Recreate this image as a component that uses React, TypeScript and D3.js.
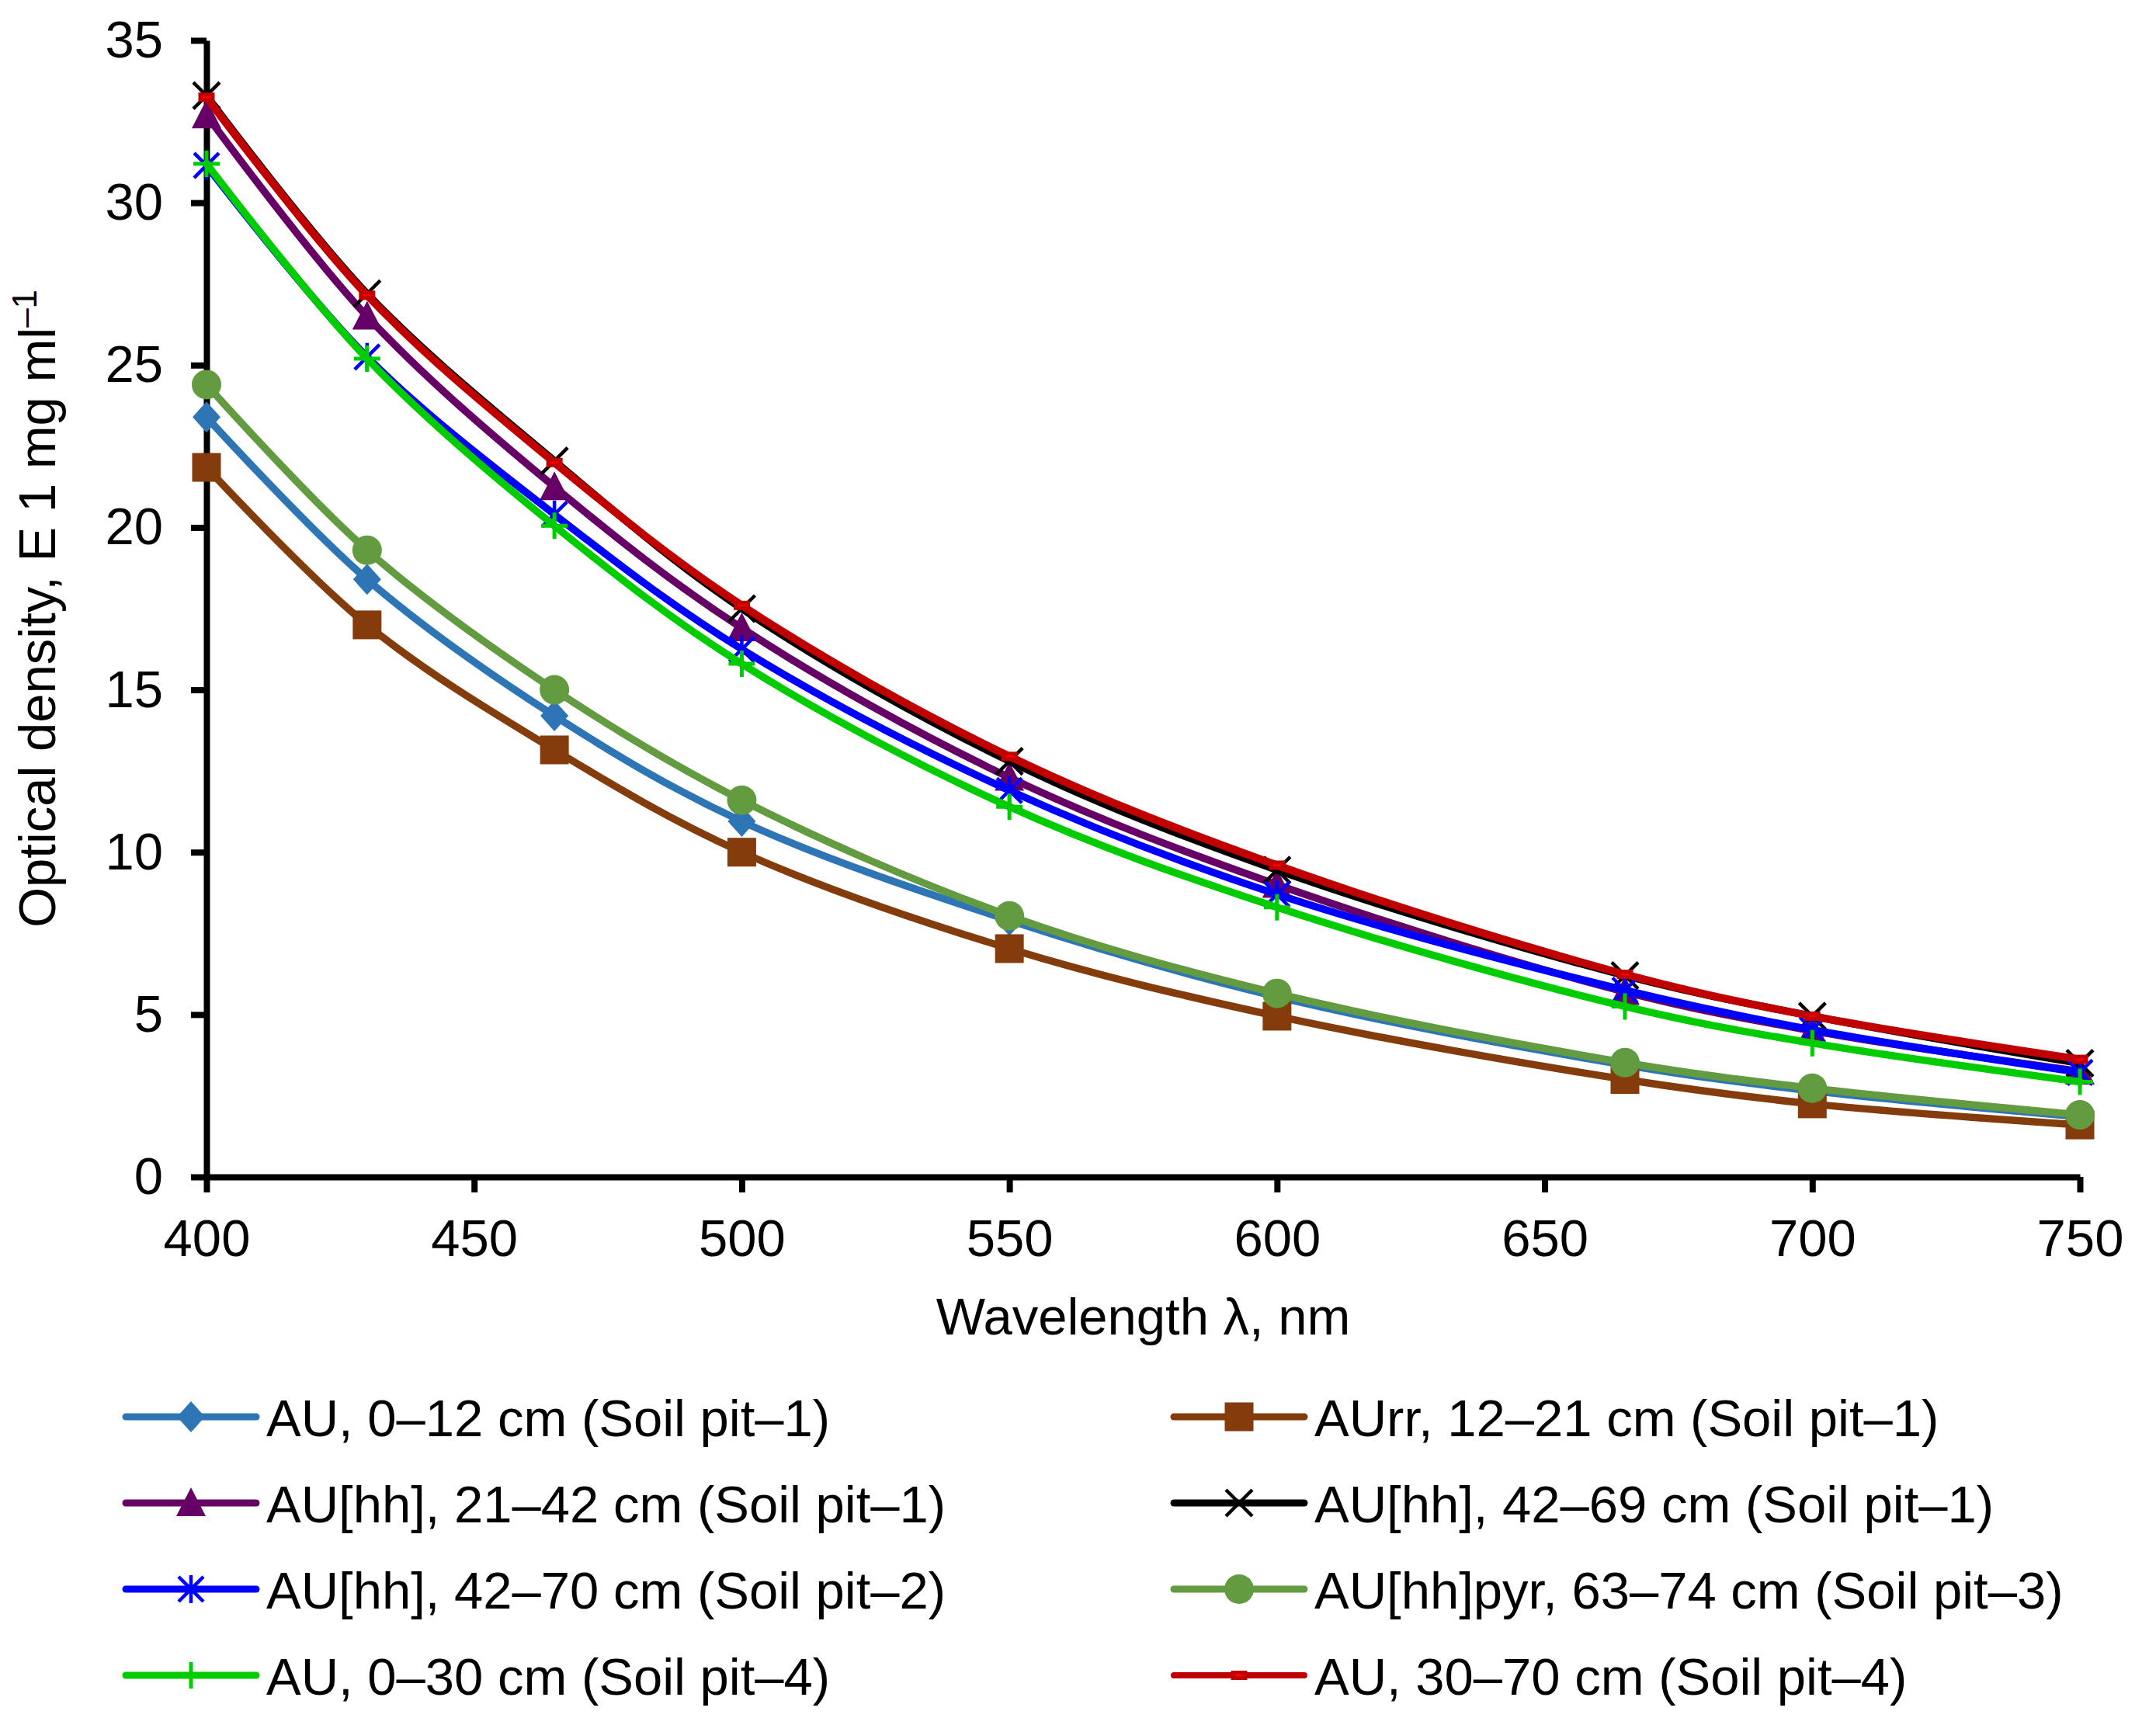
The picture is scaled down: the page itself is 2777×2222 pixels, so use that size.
import { useEffect, useRef } from "react";
import * as d3 from "d3";

// wavelength, nm
const wavelengths = [400, 430, 465, 500, 550, 600, 665, 700, 750];

// optical density values
const au0_12 = [23.4, 18.4, 14.2, 10.95, 7.9, 5.55, 3.45, 2.65, 1.85];
const aurr12_21 = [21.85, 17.0, 13.15, 10.0, 7.03, 4.95, 3.0, 2.25, 1.6];
const auhh21_42 = [32.7, 26.5, 21.25, 16.9, 12.3, 9.0, 5.7, 4.5, 3.25];
const auhh42_69 = [33.3, 27.2, 22.05, 17.5, 12.8, 9.45, 6.2, 4.95, 3.5];
const auhh42_70 = [31.15, 25.25, 20.4, 16.25, 11.9, 8.7, 5.75, 4.53, 3.22];
const auhhpyr63_74 = [24.4, 19.3, 15.0, 11.6, 8.04, 5.65, 3.52, 2.73, 1.91];
const au0_30 = [31.2, 25.2, 20.05, 15.8, 11.4, 8.3, 5.25, 4.12, 2.93];
const au30_70 = [33.25, 27.15, 22.0, 17.6, 12.95, 9.6, 6.24, 4.95, 3.62];

const seriesValues = [au0_12, aurr12_21, auhh21_42, auhh42_69, auhh42_70, auhhpyr63_74, au0_30, au30_70];
const seriesNames = [
  "AU, 0–12 cm (Soil pit–1)",
  "AUrr, 12–21 cm (Soil pit–1)",
  "AU[hh], 21–42 cm (Soil pit–1)",
  "AU[hh], 42–69 cm (Soil pit–1)",
  "AU[hh], 42–70 cm (Soil pit–2)",
  "AU[hh]pyr, 63–74 cm (Soil pit–3)",
  "AU, 0–30 cm (Soil pit–4)",
  "AU, 30–70 cm (Soil pit–4)",
];
const seriesColors = ["#2E75B6", "#843C0C", "#660066", "#000000", "#0000FF", "#629B40", "#00CC00", "#C00000"];
const seriesMarkers = ["diamond", "square", "triangle", "x", "star", "circle", "plus", "dash"];

const xTicks = [400, 450, 500, 550, 600, 650, 700, 750];
const yTicks = [0, 5, 10, 15, 20, 25, 30, 35];

const FONT = "'Liberation Sans', Arial, sans-serif";

type Pt = { x: number; y: number };

function drawMarker(g: d3.Selection<SVGGElement, unknown, null, undefined>, type: string, color: string) {
  switch (type) {
    case "diamond":
      g.append("path").attr("d", "M0,-20L18,0L0,20L-18,0Z").attr("fill", color);
      break;
    case "square":
      g.append("rect").attr("x", -18.5).attr("y", -18.5).attr("width", 37).attr("height", 37).attr("fill", color);
      break;
    case "triangle":
      g.append("path").attr("d", "M0,-20L19,17L-19,17Z").attr("fill", color);
      break;
    case "x":
      g.append("path").attr("d", "M-17,-17L17,17M17,-17L-17,17").attr("stroke", color).attr("stroke-width", 4.5);
      break;
    case "star":
      g.append("path").attr("d", "M-16,-16L16,16M16,-16L-16,16M0,-18L0,18").attr("stroke", color).attr("stroke-width", 4.5);
      break;
    case "plus":
      g.append("path").attr("d", "M0,-17V17M-17,0H17").attr("stroke", color).attr("stroke-width", 5);
      break;
    case "circle":
      g.append("circle").attr("r", 19).attr("fill", color);
      break;
    case "dash":
      g.append("rect").attr("x", -10.5).attr("y", -6).attr("width", 21).attr("height", 12).attr("fill", color);
      g.append("path").attr("d", "M-5,0H5").attr("stroke", "#FF0000").attr("stroke-width", 2.5);
      break;
  }
}

export default function App() {
  const ref = useRef<SVGSVGElement>(null);

  useEffect(() => {
    if (!ref.current) return;
    const svg = d3.select(ref.current);
    svg.selectAll("*").remove();

    const xScale = d3.scaleLinear().domain([400, 750]).range([266, 2679]);
    const yScale = d3.scaleLinear().domain([0, 35]).range([1516, 52]);

    // axes
    const yAxis = d3.axisLeft(yScale).tickValues(yTicks).tickSize(20).tickSizeOuter(0).tickPadding(36);
    const gy = svg.append("g").attr("transform", `translate(${xScale(400)},0)`).call(yAxis);

    const xAxis = d3.axisBottom(xScale).tickValues(xTicks).tickSize(20).tickSizeOuter(0).tickPadding(34);
    const gx = svg.append("g").attr("transform", `translate(0,${yScale(0)})`).call(xAxis);

    [gx, gy].forEach((g) => {
      g.select(".domain").attr("stroke", "#000").attr("stroke-width", 8);
      g.selectAll(".tick line").attr("stroke", "#000").attr("stroke-width", 8);
      g.selectAll(".tick text").attr("fill", "#000").attr("font-size", 67).attr("font-family", FONT);
    });

    // series
    const line = d3.line<Pt>()
      .x((d) => xScale(d.x))
      .y((d) => yScale(d.y))
      .curve(d3.curveCatmullRom.alpha(0.5));

    seriesValues.forEach((vals, i) => {
      const data: Pt[] = wavelengths.map((w, j) => ({ x: w, y: vals[j] }));
      const sg = svg.append("g");
      sg.append("path")
        .datum(data)
        .attr("d", line)
        .attr("fill", "none")
        .attr("stroke", seriesColors[i])
        .attr("stroke-width", i === 7 ? 10 : 9.5)
        .attr("stroke-linejoin", "round")
        .attr("stroke-linecap", "round");
      data.forEach((d) => {
        const mg = sg.append("g").attr("transform", `translate(${xScale(d.x)},${yScale(d.y)})`);
        drawMarker(mg, seriesMarkers[i], seriesColors[i]);
      });
    });

    // axis titles
    svg.append("text")
      .attr("x", (xScale(400) + xScale(750)) / 2)
      .attr("y", 1719)
      .attr("text-anchor", "middle")
      .attr("font-size", 67)
      .attr("font-family", FONT)
      .text("Wavelength λ, nm");

    const yt = svg.append("text")
      .attr("transform", `translate(71,${(yScale(0) + yScale(35)) / 2}) rotate(-90)`)
      .attr("text-anchor", "middle")
      .attr("font-size", 67)
      .attr("font-family", FONT);
    yt.append("tspan").text("Optical density, E 1 mg ml");
    yt.append("tspan").attr("dy", -24).attr("font-size", 44).text("–1");

    // legend, two columns
    const legendRows = [1825, 1936, 2047, 2158];
    const legendCols = [162, 1512];
    seriesNames.forEach((name, i) => {
      const col = i % 2;
      const row = Math.floor(i / 2);
      const lg = svg.append("g").attr("transform", `translate(${legendCols[col]},${legendRows[row]})`);
      lg.append("path")
        .attr("d", "M0,0H168")
        .attr("stroke", seriesColors[i])
        .attr("stroke-width", i === 7 ? 8 : 9)
        .attr("stroke-linecap", "round");
      const mg = lg.append("g").attr("transform", "translate(84,0)");
      drawMarker(mg, seriesMarkers[i], seriesColors[i]);
      lg.append("text")
        .attr("x", 181)
        .attr("y", 25)
        .attr("font-size", 67)
        .attr("font-family", FONT)
        .attr("fill", "#000")
        .text(name);
    });
  }, []);

  return (
    <svg
      ref={ref}
      width={2777}
      height={2222}
      viewBox="0 0 2777 2222"
      style={{ position: "absolute", left: 0, top: 0, background: "#fff" }}
    />
  );
}
